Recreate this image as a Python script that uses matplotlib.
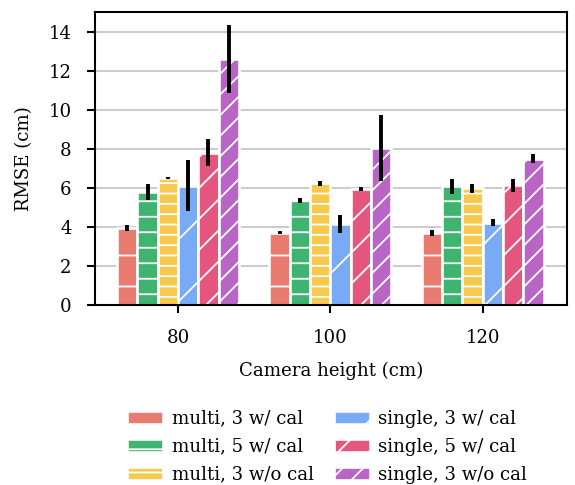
import numpy as np
import matplotlib
matplotlib.use("Agg")
import matplotlib.pyplot as plt

heights = ["80", "100", "120"]
labels = ["multi, 3 w/ cal", "multi, 5 w/ cal", "multi, 3 w/o cal",
          "single, 3 w/ cal", "single, 5 w/ cal", "single, 3 w/o cal"]

# RMSE per method, one value per camera height (80, 100, 120)
rmse = [
    [3.95, 3.7, 3.67],
    [5.77, 5.35, 6.07],
    [6.5, 6.23, 5.97],
    [6.1, 4.15, 4.22],
    [7.8, 5.93, 6.12],
    [12.6, 8.05, 7.5],
]
err = [
    [0.15, 0.08, 0.15],
    [0.42, 0.13, 0.4],
    [0.05, 0.14, 0.22],
    [1.3, 0.48, 0.2],
    [0.7, 0.1, 0.33],
    [1.75, 1.7, 0.22],
]

colors = ["#E87A70", "#3FB370", "#F8C94F", "#79AAF5", "#E5567F", "#B865C6"]
hatches = ["-", "--", "---", "/", "//", "///"]

DPI = 186
W, H = 575, 485
# extra canvas that is cut off again, so the hatch pattern lines up like the original
PT, PL = 8, 8
FW, FH = W + PL, H + PT

plt.rcParams["font.family"] = "DejaVu Serif"
plt.rcParams["font.size"] = 7
plt.rcParams["hatch.color"] = "white"
plt.rcParams["hatch.linewidth"] = 0.7

fig = plt.figure(figsize=(FW / DPI, FH / DPI), dpi=DPI)
ax = fig.add_axes([(95 + PL) / FW, 1 - (305 + PT) / FH, 471.7 / FW, 293 / FH])

x = np.arange(len(heights))
w = 0.8 / len(labels)
for i in range(len(labels)):
    pos = x - 0.4 + w * (i + 0.5)
    ax.bar(pos, rmse[i], w, color=colors[i], edgecolor="white", linewidth=1.0,
           hatch=hatches[i], label=labels[i], zorder=2)
    ax.errorbar(pos, rmse[i], yerr=err[i], fmt="none", ecolor="black",
                elinewidth=1.5, capsize=0, zorder=3)

ax.set_ylim(0, 15)
ax.set_yticks(np.arange(0, 15, 2))
ax.set_xticks(x)
ax.set_xticklabels(heights)
ax.set_xlim(-0.545, 2.552)
ax.yaxis.grid(True, color="#cccccc", linewidth=0.8, zorder=0)
ax.set_axisbelow(True)
for s in ax.spines.values():
    s.set_linewidth(0.8)
ax.tick_params(width=0.8, length=3.1, pad=6)
ax.set_ylabel("RMSE (cm)", labelpad=6)
ax.set_xlabel("Camera height (cm)", labelpad=6)

ax.legend(loc="center", bbox_to_anchor=((327 + PL) / FW, 1 - (446.7 + PT) / FH),
          bbox_transform=fig.transFigure, ncol=2, frameon=False,
          handlelength=2.0, handletextpad=0.45, columnspacing=1.1,
          labelspacing=0.55)

fig.canvas.draw()
img = np.asarray(fig.canvas.buffer_rgba())[PT:, PL:]
plt.imsave("out.png", img)
